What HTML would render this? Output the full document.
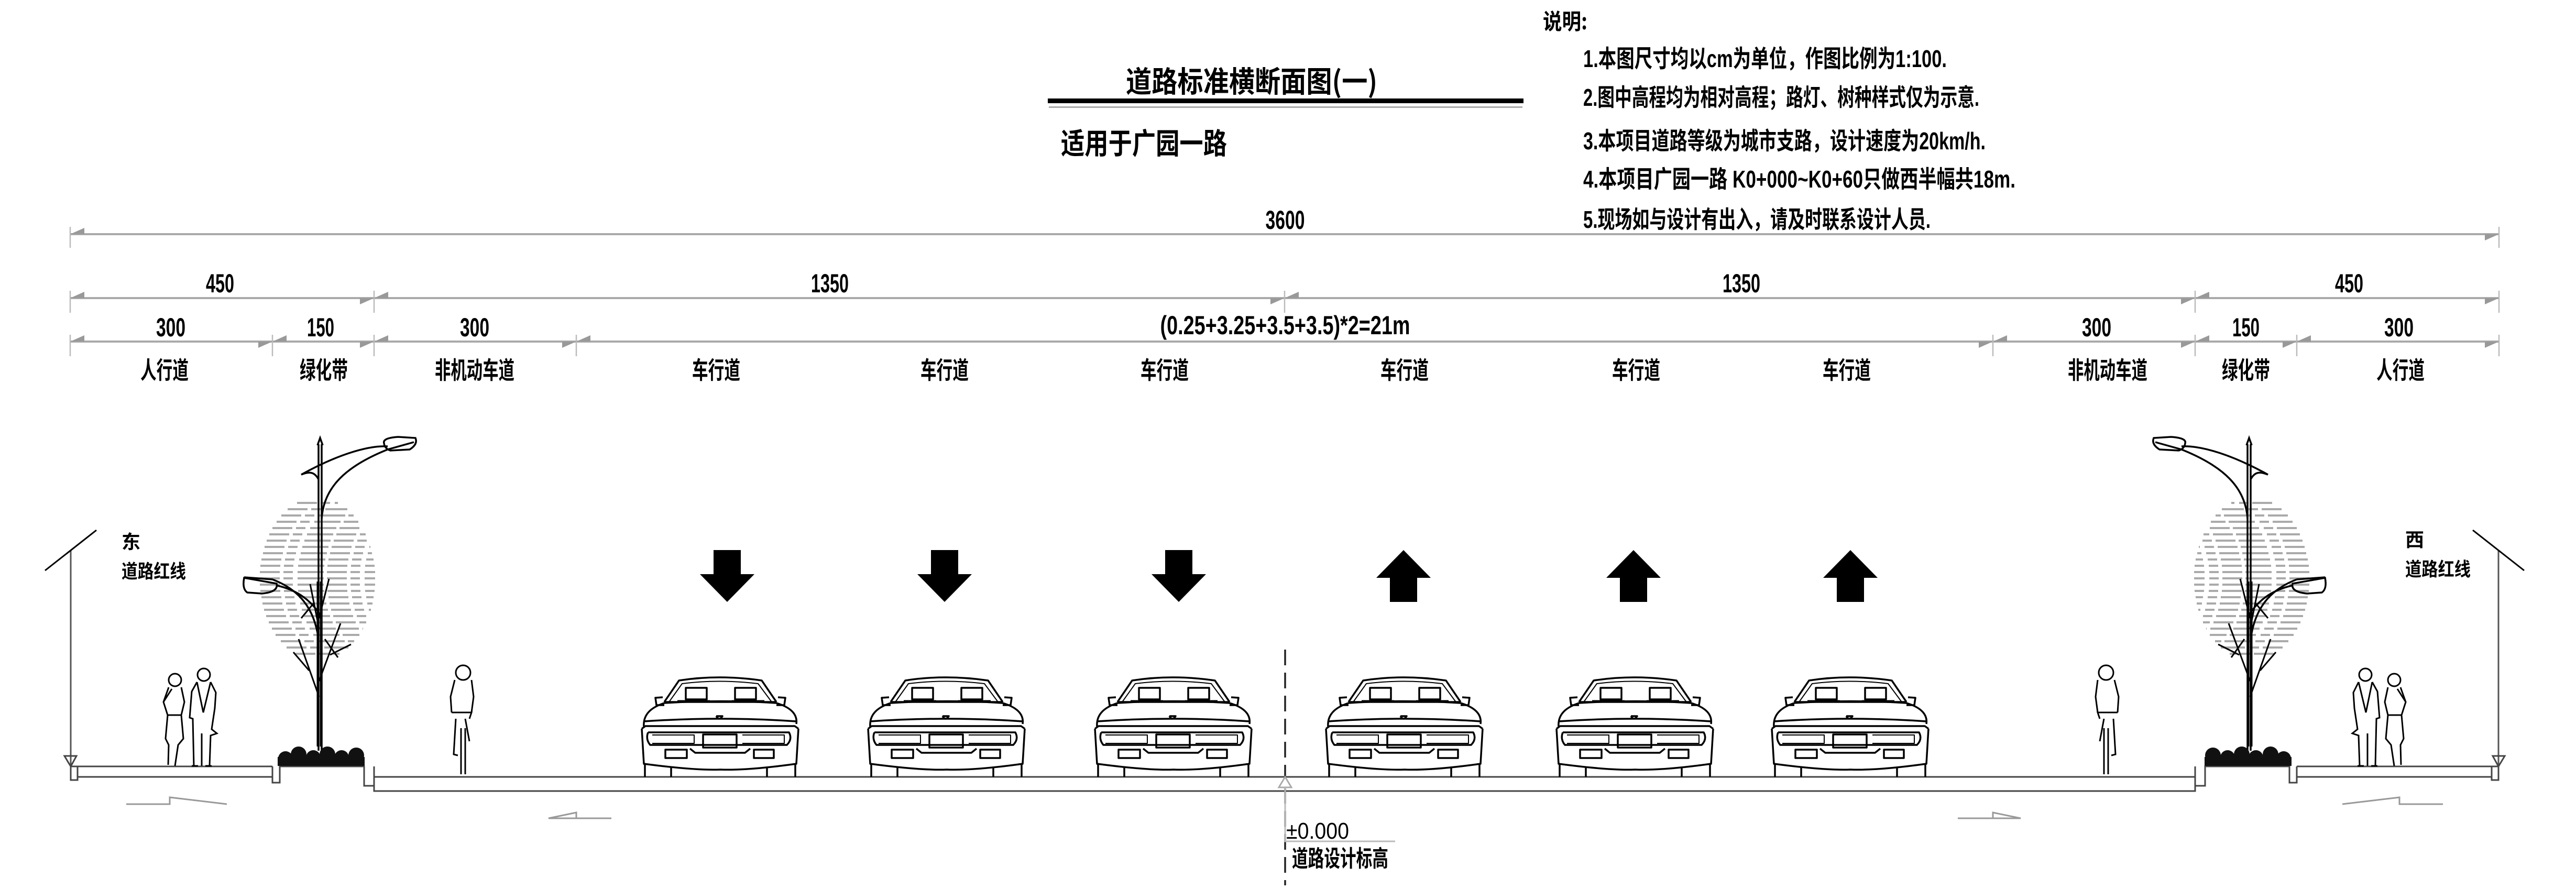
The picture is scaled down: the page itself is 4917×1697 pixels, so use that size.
<!DOCTYPE html>
<html><head><meta charset="utf-8"><style>
html,body{margin:0;padding:0;background:#fff;}
svg{display:block;}
text{font-family:"Liberation Sans","Noto Sans CJK SC",sans-serif;fill:#000;font-weight:bold;}
.cjk{font-family:"Noto Sans CJK SC","WenQuanYi Zen Hei",sans-serif;font-weight:bold;}
</style></head><body>
<svg width="4917" height="1697" viewBox="0 0 4917 1697" xmlns="http://www.w3.org/2000/svg">
<defs>
<g id="car" fill="none" stroke="#000" stroke-width="3.5" stroke-linejoin="round">
<path d="M41,49 L69,8 Q145,-4 227,8 L255,49"/>
<path d="M50,49 L75,14 Q145,5 220,14 L246,49" stroke-width="2"/>
<path d="M41,49 L255,49"/>
<rect x="82" y="22" width="40" height="22"/><rect x="176" y="22" width="40" height="22"/>
<path d="M66,48 L128,48 M170,48 L232,48" stroke-width="5"/>
<path d="M41,55 L26,55 L24,41 L38,40 M255,55 L270,55 L272,41 L258,40"/>
<path d="M2,96 C0,70 20,58 41,51 Q148,44 255,51 C278,58 296,70 293,91"/>
<path d="M2,86 Q148,76 293,86"/>
<path d="M140,76 L152,76 Q146,86 140,76"/>
<path d="M-2,100 L5,95 L290,95 L297,100"/>
<path d="M10,107 L279,107 Q286,120 275,131 L14,131 Q5,120 10,107"/>
<path d="M18,112 L98,112 L98,128 L18,128 M190,112 L270,112 L270,128 L190,128" stroke-width="2"/>
<rect x="115" y="111" width="64" height="25"/>
<path d="M90,138 L100,146 L195,146 L205,138"/>
<rect x="43" y="140" width="41" height="16"/><rect x="212" y="140" width="38" height="16"/>
<path d="M-2,100 L2,167 Q100,180 148,178 Q200,180 293,167 L297,100"/>
<path d="M4,167 V192 M54,174 V192 M237,174 V192 M291,167 V192"/>
</g>
<polygon id="dn" points="-26,0 26,0 26,46 52,46 0,99 -52,46 -26,46" fill="#000"/>
<g id="side">
 <path d="M135,1050 V1463" stroke="#555" stroke-width="3" fill="none"/>
 <path d="M86,1089 L184,1012" stroke="#000" stroke-width="3"/>
 <path d="M123,1443 L146,1443 L135,1463 Z" fill="none" stroke="#444" stroke-width="3"/>
 <g fill="none" stroke="#444" stroke-width="3">
  <path d="M135,1463 H520 M135,1463 V1489 H148 V1463 M148,1483 H520"/>
  <path d="M520,1463 V1494 H534 V1463 H695 V1500 H714 V1463 M714,1483 H2460 M714,1500 V1510 H2460"/>
  <path d="M241,1535 H324 V1522 L433,1535" stroke="#999"/>
  <path d="M1167,1562 H1047 L1100,1551 V1562" stroke="#999"/>
 </g>
 <g stroke="#aaa" stroke-width="4" stroke-dasharray="38 7 18 9 50 6" transform="translate(-15,0)">
  <path d="M582,960h78M564,972h114M552,984h138M543,996h156M535,1008h172M529,1020h184M524,1032h194M520,1044h202M517,1056h208M514,1068h214M512,1080h218M511,1092h220M511,1104h220M511,1116h220M512,1128h218M514,1140h214M516,1152h210M519,1164h204M523,1176h196M528,1188h186M534,1200h174M541,1212h160M551,1224h140M562,1236h118M579,1248h84"/>
 </g>
 <g stroke="#000" stroke-width="3" fill="none">
  <path d="M606,1110 V1425 M612,1110 V1425"/>
  <path d="M609,1330 L570,1220 M590,1280 L560,1245 M609,1300 L650,1190 M630,1250 L670,1230 M609,1200 L592,1115 M609,1180 L628,1105 M600,1150 L575,1180 M620,1220 L645,1255"/>
 </g>
 <g stroke="#000" stroke-width="3.5" fill="none">
  <path d="M608,848 V1433 M614,848 V1433 M606,850 L611,836 L616,850"/>
  <path d="M614,990 C618,930 660,890 740,858 L790,844"/>
  <path d="M608,915 C600,900 590,900 575,906 C640,870 700,850 740,852"/>
  <path d="M733,846 Q730,836 760,834 L793,836 Q798,848 782,858 L745,860 Q734,856 733,846Z"/>
  <path d="M608,1220 C600,1160 570,1125 520,1106 L466,1102"/>
  <path d="M612,1175 C590,1140 560,1125 530,1118"/>
  <path d="M528,1114 Q532,1130 500,1133 L472,1131 Q462,1124 466,1103 Z"/>
 </g>
 <g fill="#111">
  <circle cx="545" cy="1448" r="14"/><circle cx="570" cy="1440" r="15"/><circle cx="598" cy="1446" r="14"/><circle cx="625" cy="1440" r="15"/><circle cx="652" cy="1446" r="14"/><circle cx="680" cy="1442" r="15"/>
  <rect x="530" y="1445" width="166" height="17"/>
 </g>
 <g stroke="#000" stroke-width="3" fill="none">
  <circle cx="334" cy="1298" r="12"/>
  <path d="M322,1312 L312,1340 L320,1365 L316,1410 L322,1422 L321,1460 M346,1312 L352,1340 L346,1365 L350,1410 L340,1422 L334,1462 M320,1365 H346 M312,1340 L328,1315"/>
  <circle cx="389" cy="1288" r="12"/>
  <path d="M376,1302 L366,1320 L362,1370 L368,1372 L370,1462 M402,1302 L412,1322 L410,1352 L404,1392 L414,1400 L402,1404 L400,1462 M376,1302 L388,1360 L402,1302 M385,1400 V1462 M366,1462 H378 M392,1462 H404"/>
  <circle cx="884" cy="1284" r="14"/>
  <path d="M868,1298 L860,1330 L862,1360 M900,1298 L904,1330 L900,1360 M862,1360 H900 L896,1372 M870,1372 L866,1440 L874,1442 M888,1372 L896,1415 M880,1390 V1478 M888,1390 V1478"/>
 </g>
</g>
</defs>

<text class="cjk" x="2149" y="176" font-size="56" textLength="480" lengthAdjust="spacingAndGlyphs">道路标准横断面图(一)</text>
<rect x="2000" y="188" width="908" height="9" fill="#000"/>
<rect x="2002" y="203" width="904" height="3" fill="#aaa"/>
<text class="cjk" x="2025" y="294" font-size="56" textLength="317" lengthAdjust="spacingAndGlyphs">适用于广园一路</text>

<text class="cjk" x="2945" y="56" font-size="42" textLength="85" lengthAdjust="spacingAndGlyphs">说明:</text>
<g font-size="46">
<text x="3022" y="128" textLength="694" lengthAdjust="spacingAndGlyphs">1.本图尺寸均以cm为单位，作图比例为1:100.</text>
<text x="3022" y="202" textLength="756" lengthAdjust="spacingAndGlyphs">2.图中高程均为相对高程；路灯、树种样式仅为示意.</text>
<text x="3022" y="285" textLength="768" lengthAdjust="spacingAndGlyphs">3.本项目道路等级为城市支路，设计速度为20km/h.</text>
<text x="3022" y="358" textLength="825" lengthAdjust="spacingAndGlyphs">4.本项目广园一路 K0+000~K0+60只做西半幅共18m.</text>
<text x="3022" y="435" textLength="663" lengthAdjust="spacingAndGlyphs">5.现场如与设计有出入，请及时联系设计人员.</text>
</g>

<g stroke="#aaa" stroke-width="4">
 <path d="M134,447 H4770 M134,569 H4770 M134,652 H4770"/>
</g>
<g stroke="#bbb" stroke-width="2.5">
 <path d="M134,433 V473 M4770,433 V473"/>
 <path d="M134,555 V597 M714,555 V597 M2452,555 V597 M4190,555 V597 M4770,555 V597"/>
 <path d="M134,639 V680 M520,639 V680 M714,639 V680 M1100,639 V680 M3804,639 V680 M4190,639 V680 M4384,639 V680 M4770,639 V680"/>
</g>
<g fill="#999">
 <polygon points="134,447 161,435 161,447"/><polygon points="4770,447 4743,447 4743,459"/>
 <polygon points="134,569 161,557 161,569"/><polygon points="714,569 687,569 687,581"/><polygon points="714,569 741,557 741,569"/>
 <polygon points="2452,569 2425,569 2425,581"/><polygon points="2452,569 2479,557 2479,569"/>
 <polygon points="4190,569 4163,569 4163,581"/><polygon points="4190,569 4217,557 4217,569"/><polygon points="4770,569 4743,569 4743,581"/>
 <polygon points="134,652 161,640 161,652"/><polygon points="520,652 493,652 493,664"/><polygon points="520,652 547,640 547,652"/>
 <polygon points="714,652 687,652 687,664"/><polygon points="714,652 741,640 741,652"/><polygon points="1100,652 1073,652 1073,664"/><polygon points="1100,652 1127,640 1127,652"/>
 <polygon points="3804,652 3777,652 3777,664"/><polygon points="3804,652 3831,640 3831,652"/><polygon points="4190,652 4163,652 4163,664"/><polygon points="4190,652 4217,640 4217,652"/>
 <polygon points="4384,652 4357,652 4357,664"/><polygon points="4384,652 4411,640 4411,652"/><polygon points="4770,652 4743,652 4743,664"/>
</g>
<g font-size="50" text-anchor="middle">
 <text x="2453" y="437" textLength="75" lengthAdjust="spacingAndGlyphs">3600</text>
 <text x="420" y="558" textLength="54" lengthAdjust="spacingAndGlyphs">450</text>
 <text x="1584" y="558" textLength="72" lengthAdjust="spacingAndGlyphs">1350</text>
 <text x="3324" y="558" textLength="72" lengthAdjust="spacingAndGlyphs">1350</text>
 <text x="4484" y="558" textLength="54" lengthAdjust="spacingAndGlyphs">450</text>
 <text x="326" y="642" textLength="56" lengthAdjust="spacingAndGlyphs">300</text>
 <text x="612" y="642" textLength="52" lengthAdjust="spacingAndGlyphs">150</text>
 <text x="906" y="642" textLength="56" lengthAdjust="spacingAndGlyphs">300</text>
 <text x="2453" y="638" textLength="477" lengthAdjust="spacingAndGlyphs">(0.25+3.25+3.5+3.5)*2=21m</text>
 <text x="4002" y="642" textLength="56" lengthAdjust="spacingAndGlyphs">300</text>
 <text x="4287" y="642" textLength="52" lengthAdjust="spacingAndGlyphs">150</text>
 <text x="4579" y="642" textLength="56" lengthAdjust="spacingAndGlyphs">300</text>
</g>
<g font-size="46" text-anchor="middle">
 <text class="cjk" x="314" y="723" textLength="92" lengthAdjust="spacingAndGlyphs">人行道</text>
 <text class="cjk" x="618" y="723" textLength="92" lengthAdjust="spacingAndGlyphs">绿化带</text>
 <text class="cjk" x="906" y="723" textLength="152" lengthAdjust="spacingAndGlyphs">非机动车道</text>
 <text class="cjk" x="1367" y="723" textLength="92" lengthAdjust="spacingAndGlyphs">车行道</text>
 <text class="cjk" x="1803" y="723" textLength="92" lengthAdjust="spacingAndGlyphs">车行道</text>
 <text class="cjk" x="2223" y="723" textLength="92" lengthAdjust="spacingAndGlyphs">车行道</text>
 <text class="cjk" x="2681" y="723" textLength="92" lengthAdjust="spacingAndGlyphs">车行道</text>
 <text class="cjk" x="3123" y="723" textLength="92" lengthAdjust="spacingAndGlyphs">车行道</text>
 <text class="cjk" x="3525" y="723" textLength="92" lengthAdjust="spacingAndGlyphs">车行道</text>
 <text class="cjk" x="4023" y="723" textLength="152" lengthAdjust="spacingAndGlyphs">非机动车道</text>
 <text class="cjk" x="4287" y="723" textLength="92" lengthAdjust="spacingAndGlyphs">绿化带</text>
 <text class="cjk" x="4582" y="723" textLength="92" lengthAdjust="spacingAndGlyphs">人行道</text>
</g>

<use href="#side"/>
<use href="#side" transform="translate(4904,0) scale(-1,1)"/>

<text class="cjk" x="232" y="1047" font-size="36">东</text>
<text class="cjk" x="232" y="1103" font-size="36" textLength="123" lengthAdjust="spacingAndGlyphs">道路红线</text>
<text class="cjk" x="4591" y="1043" font-size="36">西</text>
<text class="cjk" x="4591" y="1099" font-size="36" textLength="125" lengthAdjust="spacingAndGlyphs">道路红线</text>

<use href="#dn" transform="translate(1388,1050)"/>
<use href="#dn" transform="translate(1803,1050)"/>
<use href="#dn" transform="translate(2250,1050)"/>
<use href="#dn" transform="translate(2679,1149) scale(1,-1)"/>
<use href="#dn" transform="translate(3118,1149) scale(1,-1)"/>
<use href="#dn" transform="translate(3532,1149) scale(1,-1)"/>

<use href="#car" transform="translate(1227,1291)"/>
<use href="#car" transform="translate(1659,1291)"/>
<use href="#car" transform="translate(2092,1291)"/>
<use href="#car" transform="translate(2533,1291)"/>
<use href="#car" transform="translate(2973,1291)"/>
<use href="#car" transform="translate(3384,1291)"/>

<path d="M2453,1240 V1690" stroke="#222" stroke-width="3.5" stroke-dasharray="30 14"/>
<path d="M2441,1503 L2453,1483 L2465,1503 Z" fill="#fff" stroke="#aaa" stroke-width="3"/>
<path d="M2453,1503 V1606 H2663" stroke="#bbb" stroke-width="3" fill="none"/>
<text x="2455" y="1601" font-size="44" textLength="120" lengthAdjust="spacingAndGlyphs" style="font-weight:normal">±0.000</text>
<text class="cjk" x="2466" y="1654" font-size="44" textLength="184" lengthAdjust="spacingAndGlyphs">道路设计标高</text>
</svg>
</body></html>
